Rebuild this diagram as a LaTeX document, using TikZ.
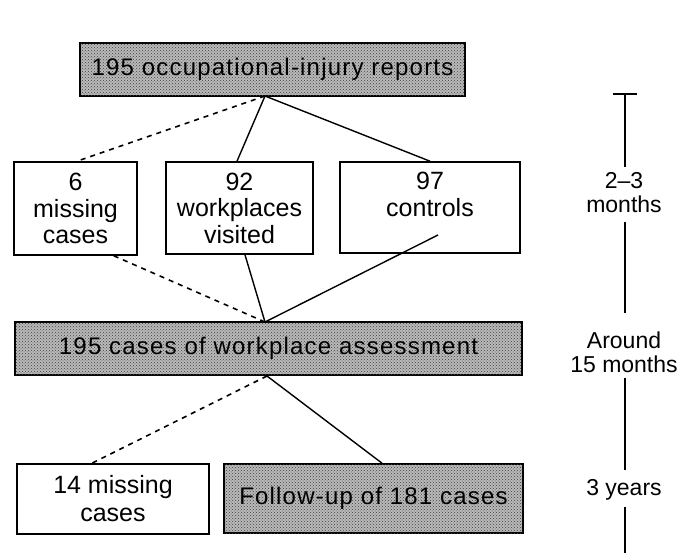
\documentclass[tikz,border=0pt]{standalone}
\usepackage{fontspec}
\setmainfont{Liberation Sans}
\newfontfamily\wide[LetterSpace=5]{Liberation Sans}
\usetikzlibrary{patterns,calc}
\tikzset{
  whitebox/.style={draw=black, line width=1.6pt, fill=white, inner sep=0pt, align=center,
    font=\fontsize{25}{26.5}\selectfont},
  threeline/.style={execute at begin node={\rule{0pt}{32pt}}},
  graybox/.style={draw=black, line width=1.6pt, fill=gray!55, inner sep=0pt, align=center,
    font=\wide\fontsize{24}{26}\selectfont,
    postaction={pattern=crosshatch dots, pattern color=black!75}},
  timelbl/.style={align=center, inner sep=0pt, font=\fontsize{23}{24}\selectfont},
  solidline/.style={line width=1.4pt},
  dashline/.style={line width=1.6pt, dash pattern=on 5pt off 5pt},
  tline/.style={line width=1.5pt}
}
\begin{document}
\begin{tikzpicture}[x=1pt,y=-1pt]
\useasboundingbox (0,0) rectangle (682,553);
% boxes
\node[graybox, minimum width=385pt, minimum height=53pt] (top) at (272.5,69.5) {195 occupational-injury reports};
\node[whitebox, threeline, minimum width=123pt, minimum height=93pt] (b1) at (75.5,208.5) {6\\missing\\cases};
\node[whitebox, threeline, minimum width=147pt, minimum height=92pt] (b2) at (239.5,208) {92\\workplaces\\visited};
\node[whitebox, threeline, minimum width=180pt, minimum height=91pt] (b3) at (430,207.5) {97\\controls\\\mbox{}};
\node[graybox, minimum width=507pt, minimum height=53pt] (assess) at (268.5,348.5) {195 cases of workplace assessment};
\node[whitebox, minimum width=192pt, minimum height=70pt, font=\fontsize{25}{28}\selectfont] (m14) at (113,499) {14 missing\\cases};
\node[graybox, minimum width=299pt, minimum height=69pt] (fu) at (373.5,498.5) {Follow-up of 181 cases};
% connector points
\coordinate (tb) at (265,96);
\coordinate (c3) at (438,235);
\coordinate (ab) at (267,376);
\coordinate (at) at (265,322);
% connectors
\draw[dashline] (tb) -- ($(b1.north)+(1.5,0)$);
\draw[solidline] (tb) -- ($(b2.north)+(-2.5,0)$);
\draw[solidline] (tb) -- (b3.north);
\draw[dashline] ($(b1.south east)+(-24,0)$) -- (at);
\draw[solidline] ($(b2.south)+(5.5,0)$) -- (at);
\draw[solidline] (c3) -- (at);
\draw[dashline] (ab) -- ($(m14.north)+(-21,0)$);
\draw[solidline] (ab) -- ($(fu.north)+(8.5,0)$);
% timeline
\node[timelbl] (t1) at (624,193) {2--3\\months};
\node[timelbl] (t2) at (624,352) {Around\\15 months};
\node[timelbl] (t3) at (624,490) {3 years};
\coordinate (k0) at (625,94);
\draw[tline] (613,94) -- (637,94);
\draw[tline] (k0) -- (625,167);
\draw[tline] (625,222) -- (625,313);
\draw[tline] (625,378) -- (625,470);
\draw[tline] (625,507) -- (625,553);
\end{tikzpicture}
\end{document}
